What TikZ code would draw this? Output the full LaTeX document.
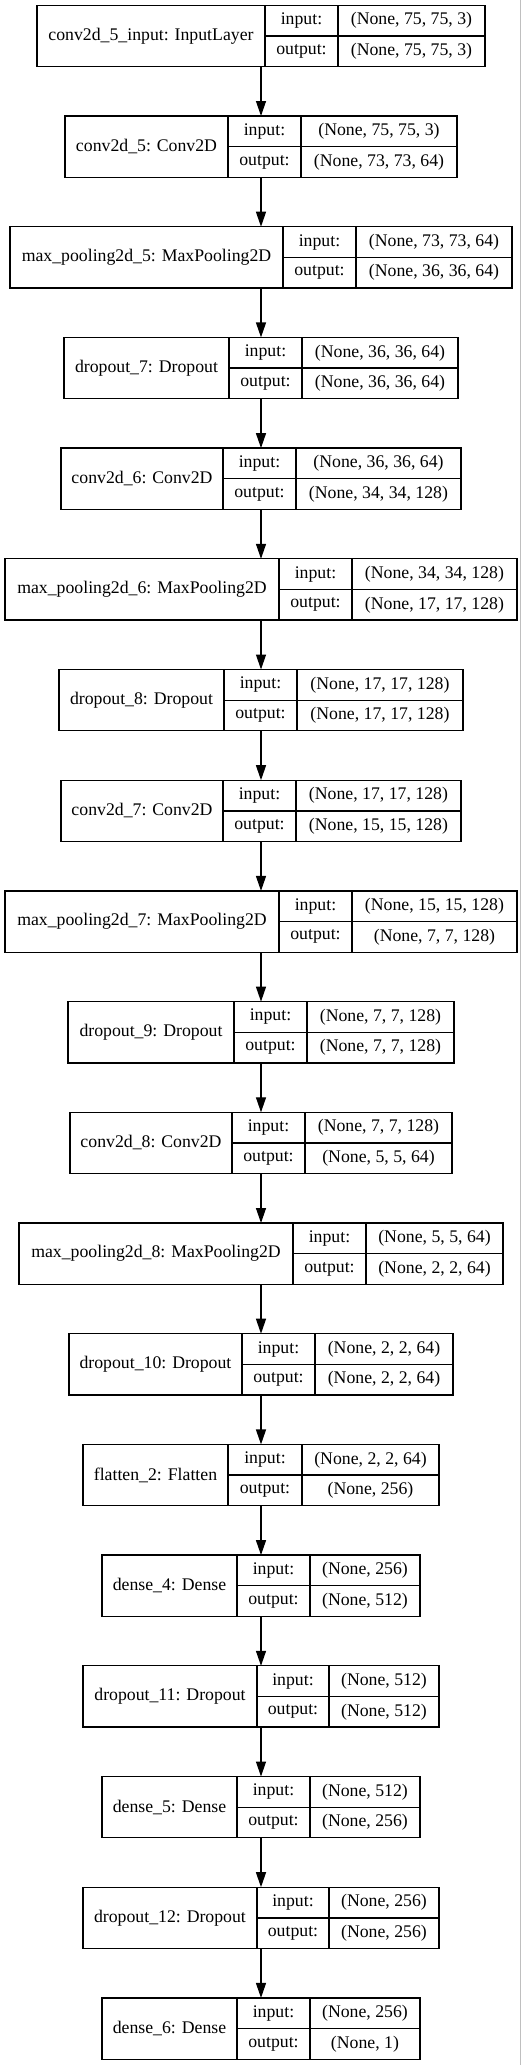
\documentclass[tikz,border=0pt]{standalone}
\usepackage{fontspec}
\setmainfont{Liberation Serif}
\usetikzlibrary{arrows.meta}

% one keras layer: id, row, left, split1, split2, right, name, input, output
\newcommand{\layer}[9]{%
\pgfmathsetmacro{\ytop}{5.3+110.7*#2}%
\pgfmathsetmacro{\ymid}{\ytop+30.65}%
\pgfmathsetmacro{\yup}{\ytop+15.325}%
\pgfmathsetmacro{\ydn}{\ytop+45.975}%
\pgfmathsetmacro{\wa}{#4-#3}%
\pgfmathsetmacro{\wb}{#5-#4}%
\pgfmathsetmacro{\wc}{#6-#5}%
\pgfmathsetmacro{\wall}{#6-#3}%
\node[cell, minimum width=\wa pt, minimum height=61.3pt] (#1-name) at ({(#3+#4)/2},\ymid) {#7};
\node[cell, minimum width=\wb pt, minimum height=30.65pt] (#1-ik) at ({(#4+#5)/2},\yup) {input:};
\node[cell, minimum width=\wc pt, minimum height=30.65pt] (#1-iv) at ({(#5+#6)/2},\yup) {#8};
\node[cell, minimum width=\wb pt, minimum height=30.65pt] (#1-ok) at ({(#4+#5)/2},\ydn) {output:};
\node[cell, minimum width=\wc pt, minimum height=30.65pt] (#1-ov) at ({(#5+#6)/2},\ydn) {#9};
\node[inner sep=0pt, outer sep=0pt, minimum width=\wall pt, minimum height=61.3pt] (#1) at ({(#3+#6)/2},\ymid) {};
}

\begin{document}
\begin{tikzpicture}[x=1pt,y=-1pt,
  cell/.style={draw, line width=1.3pt, inner sep=0pt, outer sep=0pt, font=\fontsize{17.75}{20}\selectfont},
  flow/.style={line width=1.3pt, -{Triangle[length=15pt,width=10pt]}}]
\useasboundingbox (0,0) rectangle (527,2065);
\draw[black!25, line width=1pt] (520,0) -- (520,2065);

\layer{inp}{0}{37}{265}{338}{485}{conv2d\_5\_input: InputLayer}{(None, 75, 75, 3)}{(None, 75, 75, 3)}
\layer{conv5}{1}{65}{228}{301}{457}{conv2d\_5: Conv2D}{(None, 75, 75, 3)}{(None, 73, 73, 64)}
\layer{pool5}{2}{10}{283}{356}{512}{max\_pooling2d\_5: MaxPooling2D}{(None, 73, 73, 64)}{(None, 36, 36, 64)}
\layer{drop7}{3}{64}{229}{302}{458}{dropout\_7: Dropout}{(None, 36, 36, 64)}{(None, 36, 36, 64)}
\layer{conv6}{4}{61}{223}{296}{461}{conv2d\_6: Conv2D}{(None, 36, 36, 64)}{(None, 34, 34, 128)}
\layer{pool6}{5}{5}{279}{352}{517}{max\_pooling2d\_6: MaxPooling2D}{(None, 34, 34, 128)}{(None, 17, 17, 128)}
\layer{drop8}{6}{59}{224}{297}{463}{dropout\_8: Dropout}{(None, 17, 17, 128)}{(None, 17, 17, 128)}
\layer{conv7}{7}{61}{223}{296}{461}{conv2d\_7: Conv2D}{(None, 17, 17, 128)}{(None, 15, 15, 128)}
\layer{pool7}{8}{5}{279}{352}{517}{max\_pooling2d\_7: MaxPooling2D}{(None, 15, 15, 128)}{(None, 7, 7, 128)}
\layer{drop9}{9}{68}{234}{307}{454}{dropout\_9: Dropout}{(None, 7, 7, 128)}{(None, 7, 7, 128)}
\layer{conv8}{10}{70}{232}{305}{452}{conv2d\_8: Conv2D}{(None, 7, 7, 128)}{(None, 5, 5, 64)}
\layer{pool8}{11}{19}{293}{366}{503}{max\_pooling2d\_8: MaxPooling2D}{(None, 5, 5, 64)}{(None, 2, 2, 64)}
\layer{drop10}{12}{69}{242}{315}{453}{dropout\_10: Dropout}{(None, 2, 2, 64)}{(None, 2, 2, 64)}
\layer{flat2}{13}{83}{228}{302}{439}{flatten\_2: Flatten}{(None, 2, 2, 64)}{(None, 256)}
\layer{dense4}{14}{102}{237}{310}{420}{dense\_4: Dense}{(None, 256)}{(None, 512)}
\layer{drop11}{15}{83}{257}{329}{439}{dropout\_11: Dropout}{(None, 512)}{(None, 512)}
\layer{dense5}{16}{102}{237}{310}{420}{dense\_5: Dense}{(None, 512)}{(None, 256)}
\layer{drop12}{17}{83}{257}{329}{439}{dropout\_12: Dropout}{(None, 256)}{(None, 256)}
\layer{dense6}{18}{102}{237}{310}{420}{dense\_6: Dense}{(None, 256)}{(None, 1)}

\foreach \a/\b in {inp/conv5, conv5/pool5, pool5/drop7, drop7/conv6, conv6/pool6, pool6/drop8,
  drop8/conv7, conv7/pool7, pool7/drop9, drop9/conv8, conv8/pool8, pool8/drop10, drop10/flat2,
  flat2/dense4, dense4/drop11, drop11/dense5, dense5/drop12, drop12/dense6}
  \draw[flow] (\a) -- (\b);
\end{tikzpicture}
\end{document}
